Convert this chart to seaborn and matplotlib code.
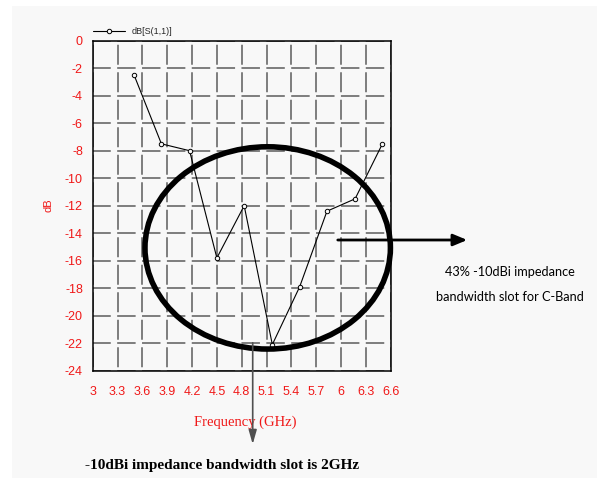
import numpy as np
import seaborn as sns
import matplotlib.pyplot as plt
from matplotlib.patches import Ellipse, Rectangle

# S11 reading, roughly every 1/3 GHz
FREQ_GHZ = [3.5, 3.83, 4.17, 4.5, 4.83, 5.17, 5.5, 5.83, 6.17, 6.5]
S11_DB = [-2.5, -7.5, -8.0, -15.8, -12.0, -22.1, -17.9, -12.4, -11.5, -7.5]

X_TICKS = [3, 3.3, 3.6, 3.9, 4.2, 4.5, 4.8, 5.1, 5.4, 5.7, 6, 6.3, 6.6]
X_TICK_LABELS = ["3", "3.3", "3.6", "3.9", "4.2", "4.5", "4.8", "5.1", "5.4", "5.7", "6", "6.3", "6.6"]
Y_TICKS = [0, -2, -4, -6, -8, -10, -12, -14, -16, -18, -20, -22, -24]

RED = "#f01818"
BG = "#f8f8f8"
GRID = "#747474"
SANS = "Liberation Sans"

sns.set_style("white")
plt.rcParams["lines.scale_dashes"] = False
plt.rcParams["axes.unicode_minus"] = False

fig = plt.figure(figsize=(5.97, 4.78), dpi=100, facecolor="white")
fig.patches.append(Rectangle((12 / 597, 0), 1, 472 / 478, transform=fig.transFigure,
                             facecolor=BG, edgecolor="none", zorder=-10))
ax = fig.add_axes([92.7 / 597, 1 - 370.7 / 478, 298 / 597, 330 / 478])
ax.set_facecolor(BG)

sns.lineplot(x=FREQ_GHZ, y=S11_DB, ax=ax, color="black", linewidth=0.8,
             marker="o", markersize=3.2, markerfacecolor=BG, markeredgecolor="black",
             markeredgewidth=0.7, label="dB[S(1,1)]", zorder=3)

ax.set_xlim(3, 6.6)
ax.set_ylim(-24, 0)
ax.set_xticks(X_TICKS)
ax.set_xticklabels(X_TICK_LABELS)
ax.set_yticks(Y_TICKS)
ax.tick_params(axis="both", length=0, colors=RED, labelsize=9)
ax.tick_params(axis="x", pad=11)
ax.tick_params(axis="y", pad=7)
for lab in ax.get_xticklabels() + ax.get_yticklabels():
    lab.set_family(SANS)

# dashed grid, gaps of vertical lines sit on the horizontal ones
ax.xaxis.grid(True, color=GRID, linewidth=1.3, linestyle=(17.1, (14.4, 5.4)))
ax.yaxis.grid(True, color=GRID, linewidth=1.3, linestyle=(0.5, (13.3, 4.6)))
ax.set_axisbelow(True)

for s in ax.spines.values():
    s.set_color("black")
    s.set_linewidth(1.1)

ax.set_xlabel("Frequency (GHz)", color=RED, fontsize=10.5, family="Liberation Serif")
ax.xaxis.set_label_coords(0.511, -0.155)
ax.xaxis.label.set_va("center")
ax.set_ylabel("dB", color=RED, fontsize=8, family=SANS)
ax.yaxis.set_label_coords(-0.15, 0.502)
ax.yaxis.label.set_va("center")

leg = ax.legend(loc="lower left", bbox_to_anchor=(0, 1.015), frameon=False,
                borderpad=0, borderaxespad=0, handlelength=3.6, handletextpad=0.75,
                prop={"family": SANS, "size": 6.5})

# highlighted band
ax.add_patch(Ellipse((5.114, -15.07), 2.965, 14.71, fill=False, edgecolor="black",
                     linewidth=4, clip_on=False, zorder=5))

ax.annotate("", xy=(470, 238), xytext=(335, 238), xycoords="figure pixels",
            textcoords="figure pixels",
            arrowprops=dict(arrowstyle="-|>,head_length=0.6,head_width=0.25",
                            mutation_scale=14, lw=2, color="black"), zorder=6)
ax.annotate("", xy=(252.7, 31), xytext=(252.7, 138), xycoords="figure pixels",
            textcoords="figure pixels",
            arrowprops=dict(arrowstyle="-|>,head_length=0.7,head_width=0.2",
                            mutation_scale=12, lw=1.2, color="#505050"), zorder=6)

fig.text(510 / 597, 1 - 271.7 / 478, "43% -10dBi impedance", ha="center", va="center",
         fontsize=9.2, family="Lato", color="black")
fig.text(510 / 597, 1 - 297 / 478, "bandwidth slot for C-Band", ha="center", va="center",
         fontsize=9.2, family="Lato", color="black")
fig.text(222 / 597, 1 - 466 / 478, "-10dBi impedance bandwidth slot is 2GHz", ha="center",
         va="center", fontsize=11, fontweight="bold", family="Liberation Serif", color="black")

fig.savefig("out.png", dpi=100, facecolor=fig.get_facecolor())
